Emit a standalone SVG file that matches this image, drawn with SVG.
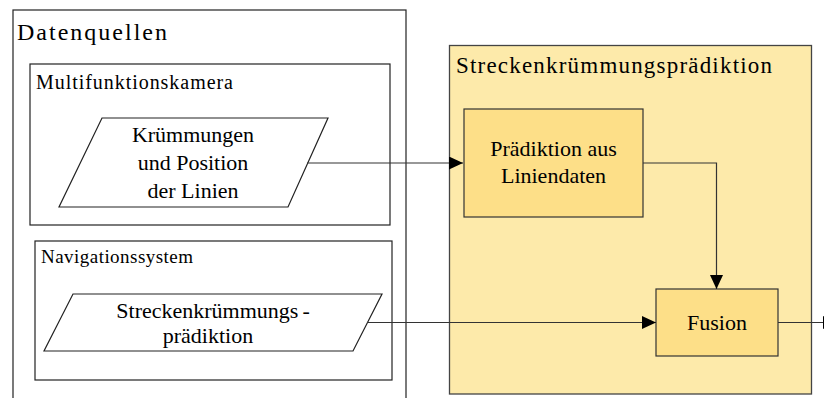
<svg xmlns="http://www.w3.org/2000/svg" width="824" height="398" viewBox="0 0 824 398">
  <style>
    .frame { fill: #fff; stroke: #222; stroke-width: 1.2; }
    .area { fill: #FDEAAA; stroke: #444; stroke-width: 1.3; }
    .proc { fill: #FDDF88; stroke: #333; stroke-width: 1.2; }
    .edge { fill: none; stroke: #333; stroke-width: 1.2; }
  </style>
  <defs>
    <marker id="arrow" viewBox="0 0 14 13" refX="14" refY="6.5" markerWidth="14" markerHeight="13" markerUnits="userSpaceOnUse" orient="auto">
      <path d="M0,0 L14,6.5 L0,13 Z" fill="#000"/>
    </marker>
  </defs>

  <!-- data sources -->
  <g id="datenquellen">
    <rect class="frame" x="13" y="10" width="393" height="400"/>
    <text x="17" y="40" font-size="24" font-family="Liberation Serif, serif" textLength="150">Datenquellen</text>
  </g>

  <g id="multifunktionskamera">
    <rect class="frame" x="30" y="64" width="360" height="161"/>
    <text x="36" y="89" font-size="20" font-family="Liberation Serif, serif" textLength="197">Multifunktionskamera</text>
  </g>

  <g id="kamera-daten">
    <polygon class="frame" points="102,118 328,118 288,207 59,207"/>
    <text x="193" y="142" font-size="22" font-family="Liberation Serif, serif" text-anchor="middle">Krümmungen</text>
    <text x="193" y="170" font-size="22" font-family="Liberation Serif, serif" text-anchor="middle">und Position</text>
    <text x="193" y="198" font-size="22" font-family="Liberation Serif, serif" text-anchor="middle">der Linien</text>
  </g>

  <g id="navigationssystem">
    <rect class="frame" x="35" y="241" width="357" height="139"/>
    <text x="41" y="263" font-size="19" font-family="Liberation Serif, serif" textLength="152">Navigationssystem</text>
  </g>

  <g id="navi-daten">
    <polygon class="frame" points="73,294 382,294 353,351 44,351"/>
    <text x="213" y="318" font-size="22" font-family="Liberation Serif, serif" text-anchor="middle">Streckenkrümmungs<tspan dx="4">-</tspan></text>
    <text x="208" y="343" font-size="22" font-family="Liberation Serif, serif" text-anchor="middle">prädiktion</text>
  </g>

  <!-- prediction area -->
  <g id="praediktion">
    <rect class="area" x="449.5" y="45.5" width="362" height="348.5"/>
    <text x="456" y="73" font-size="23" font-family="Liberation Serif, serif" textLength="316">Streckenkrümmungsprädiktion</text>
  </g>

  <g id="praediktion-linien">
    <rect class="proc" x="464" y="109" width="179" height="108"/>
    <text x="553.5" y="156" font-size="22" font-family="Liberation Serif, serif" text-anchor="middle">Prädiktion aus</text>
    <text x="553.5" y="183" font-size="22" font-family="Liberation Serif, serif" text-anchor="middle">Liniendaten</text>
  </g>

  <g id="fusion">
    <rect class="proc" x="656" y="289" width="122" height="67"/>
    <text x="717" y="330" font-size="22" font-family="Liberation Serif, serif" text-anchor="middle">Fusion</text>
  </g>

  <!-- connectors -->
  <g id="connectors">
    <path class="edge" d="M307,163 H463" marker-end="url(#arrow)"/>
    <path class="edge" d="M643,163 H716.5 V289" marker-end="url(#arrow)"/>
    <path class="edge" d="M367,322.5 H656" marker-end="url(#arrow)"/>
    <path class="edge" d="M778,322.5 H837" marker-end="url(#arrow)"/>
  </g>
</svg>
